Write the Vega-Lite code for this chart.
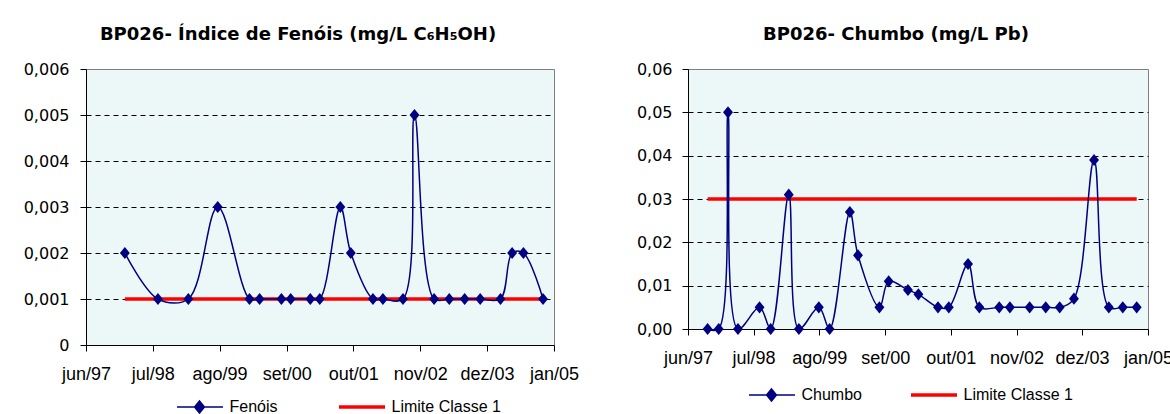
{
  "$schema": "https://vega.github.io/schema/vega-lite/v6.json",
  "background": "white",
  "padding": {"left": 22, "top": 25, "right": 0, "bottom": 0},
  "bounds": "flush",
  "spacing": 134,
  "datasets": {
    "fenois": [
      {"data": "1998-01-17", "serie": "Fenóis", "valor": 0.002},
      {"data": "1998-08-01", "serie": "Fenóis", "valor": 0.001},
      {"data": "1999-01-28", "serie": "Fenóis", "valor": 0.001},
      {"data": "1999-07-21", "serie": "Fenóis", "valor": 0.003},
      {"data": "2000-01-25", "serie": "Fenóis", "valor": 0.001},
      {"data": "2000-03-25", "serie": "Fenóis", "valor": 0.001},
      {"data": "2000-08-01", "serie": "Fenóis", "valor": 0.001},
      {"data": "2000-09-25", "serie": "Fenóis", "valor": 0.001},
      {"data": "2001-01-19", "serie": "Fenóis", "valor": 0.001},
      {"data": "2001-03-16", "serie": "Fenóis", "valor": 0.001},
      {"data": "2001-07-16", "serie": "Fenóis", "valor": 0.003},
      {"data": "2001-09-16", "serie": "Fenóis", "valor": 0.002},
      {"data": "2002-01-25", "serie": "Fenóis", "valor": 0.001},
      {"data": "2002-03-25", "serie": "Fenóis", "valor": 0.001},
      {"data": "2002-07-22", "serie": "Fenóis", "valor": 0.001},
      {"data": "2002-09-28", "serie": "Fenóis", "valor": 0.005},
      {"data": "2003-01-22", "serie": "Fenóis", "valor": 0.001},
      {"data": "2003-04-22", "serie": "Fenóis", "valor": 0.001},
      {"data": "2003-07-22", "serie": "Fenóis", "valor": 0.001},
      {"data": "2003-10-22", "serie": "Fenóis", "valor": 0.001},
      {"data": "2004-02-19", "serie": "Fenóis", "valor": 0.001},
      {"data": "2004-04-28", "serie": "Fenóis", "valor": 0.002},
      {"data": "2004-07-04", "serie": "Fenóis", "valor": 0.002},
      {"data": "2004-10-28", "serie": "Fenóis", "valor": 0.001},
      {"data": "1998-01-17", "serie": "Limite Classe 1", "valor": 0.001},
      {"data": "2004-10-28", "serie": "Limite Classe 1", "valor": 0.001}
    ],
    "chumbo": [
      {"data": "1997-09-27", "serie": "Chumbo", "valor": 0},
      {"data": "1997-12-03", "serie": "Chumbo", "valor": 0},
      {"data": "1998-01-28", "serie": "Chumbo", "valor": 0.05},
      {"data": "1998-03-29", "serie": "Chumbo", "valor": 0},
      {"data": "1998-08-06", "serie": "Chumbo", "valor": 0.005},
      {"data": "1998-10-12", "serie": "Chumbo", "valor": 0},
      {"data": "1999-01-29", "serie": "Chumbo", "valor": 0.031},
      {"data": "1999-03-31", "serie": "Chumbo", "valor": 0},
      {"data": "1999-07-29", "serie": "Chumbo", "valor": 0.005},
      {"data": "1999-10-02", "serie": "Chumbo", "valor": 0},
      {"data": "2000-02-01", "serie": "Chumbo", "valor": 0.027},
      {"data": "2000-03-21", "serie": "Chumbo", "valor": 0.017},
      {"data": "2000-07-28", "serie": "Chumbo", "valor": 0.005},
      {"data": "2000-09-22", "serie": "Chumbo", "valor": 0.011},
      {"data": "2001-01-16", "serie": "Chumbo", "valor": 0.009},
      {"data": "2001-03-20", "serie": "Chumbo", "valor": 0.008},
      {"data": "2001-07-16", "serie": "Chumbo", "valor": 0.005},
      {"data": "2001-09-19", "serie": "Chumbo", "valor": 0.005},
      {"data": "2002-01-13", "serie": "Chumbo", "valor": 0.015},
      {"data": "2002-03-22", "serie": "Chumbo", "valor": 0.005},
      {"data": "2002-07-20", "serie": "Chumbo", "valor": 0.005},
      {"data": "2002-09-22", "serie": "Chumbo", "valor": 0.005},
      {"data": "2003-01-19", "serie": "Chumbo", "valor": 0.005},
      {"data": "2003-04-26", "serie": "Chumbo", "valor": 0.005},
      {"data": "2003-07-19", "serie": "Chumbo", "valor": 0.005},
      {"data": "2003-10-13", "serie": "Chumbo", "valor": 0.007},
      {"data": "2004-02-11", "serie": "Chumbo", "valor": 0.039},
      {"data": "2004-05-10", "serie": "Chumbo", "valor": 0.005},
      {"data": "2004-08-02", "serie": "Chumbo", "valor": 0.005},
      {"data": "2004-10-25", "serie": "Chumbo", "valor": 0.005},
      {"data": "1997-09-27", "serie": "Limite Classe 1", "valor": 0.03},
      {"data": "2004-10-25", "serie": "Limite Classe 1", "valor": 0.03}
    ]
  },
  "config": {
    "view": {"fill": "#ecf8f8", "stroke": "#808080", "strokeWidth": 1},
    "axis": {"domainColor": "black", "domainWidth": 1, "tickColor": "black", "tickSize": 6, "labelColor": "black", "title": null, "labelFlush": false, "labelOverlap": false},
    "title": {"font": "DejaVu Sans", "fontSize": 18, "fontWeight": "bold", "color": "black", "anchor": "middle", "baseline": "alphabetic", "offset": 17},
    "legend": {"labelFont": "Liberation Sans", "labelFontSize": 16, "labelColor": "black", "labelOffset": 22, "symbolOffset": 14.5, "padding": 0, "symbolSize": 2209, "columnPadding": -3, "gridAlign": "all", "direction": "horizontal", "orient": "none", "title": null, "clipHeight": 18}
  },
  "resolve": {"scale": {"color": "independent"}, "legend": {"color": "independent"}},
  "hconcat": [
    {
      "width": 468,
      "height": 276,
      "data": {"name": "fenois"},
      "title": {"text": "BP026- Índice de Fenóis  (mg/L C₆H₅OH)", "dx": -22},
      "encoding": {
        "x": {
          "field": "data", "type": "temporal",
          "scale": {"type": "utc", "domain": [{"year": 1997, "month": 6, "date": 1, "utc": true}, {"year": 2005, "month": 1, "date": 1, "utc": true}]},
          "axis": {
            "values": [
              {"year": 1997, "month": 6, "date": 1, "utc": true},
              {"year": 1998, "month": 7, "date": 1, "utc": true},
              {"year": 1999, "month": 8, "date": 1, "utc": true},
              {"year": 2000, "month": 9, "date": 1, "utc": true},
              {"year": 2001, "month": 10, "date": 1, "utc": true},
              {"year": 2002, "month": 11, "date": 1, "utc": true},
              {"year": 2003, "month": 12, "date": 1, "utc": true},
              {"year": 2005, "month": 1, "date": 1, "utc": true}
            ],
            "labelExpr": "['jan','fev','mar','abr','mai','jun','jul','ago','set','out','nov','dez'][utcmonth(datum.value)] + '/' + utcFormat(datum.value, '%y')",
            "labelFont": "Liberation Sans", "labelFontSize": 18, "labelPadding": 14, "grid": false
          }
        },
        "y": {
          "field": "valor", "type": "quantitative",
          "scale": {"domain": [0, 0.006], "nice": false},
          "axis": {
            "values": [0, 0.001, 0.002, 0.003, 0.004, 0.005, 0.006],
            "labelExpr": "replace(format(datum.value, '.3~f'), '.', ',')",
            "labelFont": "DejaVu Sans", "labelFontSize": 16, "labelPadding": 11,
            "grid": true, "gridDash": [5, 4], "gridWidth": 1,
            "gridColor": {"condition": {"test": "datum.value < 0.0005 || datum.value > 0.0055", "value": "transparent"}, "value": "black"}
          }
        },
        "color": {
          "field": "serie", "type": "nominal",
          "scale": {"domain": ["Fenóis", "Limite Classe 1"], "range": ["#000080", "#ff0000"]},
          "legend": {
            "legendX": 91, "legendY": 329,
            "encode": {"symbols": {"update": {
              "size": {"value": 2209},
              "shape": {"signal": "datum.value === 'Limite Classe 1' ? 'M-1,0H1' : 'M-1,0H1M0,-0.255L0.21,0L0,0.255L-0.21,0Z'"},
              "strokeWidth": {"signal": "datum.value === 'Limite Classe 1' ? 3.5 : 1.5"},
              "stroke": {"signal": "datum.value === 'Limite Classe 1' ? '#ff0000' : '#000080'"},
              "fill": {"signal": "datum.value === 'Limite Classe 1' ? 'transparent' : '#000080'"},
              "opacity": {"value": 1}, "fillOpacity": {"value": 1}, "strokeOpacity": {"value": 1}
            }}}
          }
        }
      },
      "layer": [
        {"transform": [{"filter": "datum.serie === 'Limite Classe 1'"}], "mark": {"type": "line", "strokeWidth": 3.5}},
        {"transform": [{"filter": "datum.serie !== 'Limite Classe 1'"}], "mark": {"type": "line", "interpolate": "catmull-rom", "strokeWidth": 1.5}},
        {"transform": [{"filter": "datum.serie !== 'Limite Classe 1'"}], "mark": {"type": "point", "shape": "M0,-1.1L0.9,0L0,1.1L-0.9,0Z", "size": 121, "filled": true, "opacity": 1}}
      ]
    },
    {
      "width": 460,
      "height": 260,
      "data": {"name": "chumbo"},
      "title": {"text": "BP026- Chumbo (mg/L Pb)", "dx": -22},
      "encoding": {
        "x": {
          "field": "data", "type": "temporal",
          "scale": {"type": "utc", "domain": [{"year": 1997, "month": 6, "date": 1, "utc": true}, {"year": 2005, "month": 1, "date": 1, "utc": true}]},
          "axis": {
            "values": [
              {"year": 1997, "month": 6, "date": 1, "utc": true},
              {"year": 1998, "month": 7, "date": 1, "utc": true},
              {"year": 1999, "month": 8, "date": 1, "utc": true},
              {"year": 2000, "month": 9, "date": 1, "utc": true},
              {"year": 2001, "month": 10, "date": 1, "utc": true},
              {"year": 2002, "month": 11, "date": 1, "utc": true},
              {"year": 2003, "month": 12, "date": 1, "utc": true},
              {"year": 2005, "month": 1, "date": 1, "utc": true}
            ],
            "labelExpr": "['jan','fev','mar','abr','mai','jun','jul','ago','set','out','nov','dez'][utcmonth(datum.value)] + '/' + utcFormat(datum.value, '%y')",
            "labelFont": "Liberation Sans", "labelFontSize": 18, "labelPadding": 14, "grid": false
          }
        },
        "y": {
          "field": "valor", "type": "quantitative",
          "scale": {"domain": [0, 0.06], "nice": false},
          "axis": {
            "values": [0, 0.01, 0.02, 0.03, 0.04, 0.05, 0.06],
            "labelExpr": "replace(format(datum.value, '.2f'), '.', ',')",
            "labelFont": "DejaVu Sans", "labelFontSize": 16, "labelPadding": 10,
            "grid": true, "gridDash": [5, 4], "gridWidth": 1,
            "gridColor": {"condition": {"test": "datum.value < 0.005 || datum.value > 0.055", "value": "transparent"}, "value": "black"}
          }
        },
        "color": {
          "field": "serie", "type": "nominal",
          "scale": {"domain": ["Chumbo", "Limite Classe 1"], "range": ["#000080", "#ff0000"]},
          "legend": {
            "legendX": 61, "legendY": 317,
            "encode": {"symbols": {"update": {
              "size": {"value": 2209},
              "shape": {"signal": "datum.value === 'Limite Classe 1' ? 'M-1,0H1' : 'M-1,0H1M0,-0.255L0.21,0L0,0.255L-0.21,0Z'"},
              "strokeWidth": {"signal": "datum.value === 'Limite Classe 1' ? 3.5 : 1.5"},
              "stroke": {"signal": "datum.value === 'Limite Classe 1' ? '#ff0000' : '#000080'"},
              "fill": {"signal": "datum.value === 'Limite Classe 1' ? 'transparent' : '#000080'"},
              "opacity": {"value": 1}, "fillOpacity": {"value": 1}, "strokeOpacity": {"value": 1}
            }}}
          }
        }
      },
      "layer": [
        {"transform": [{"filter": "datum.serie === 'Limite Classe 1'"}], "mark": {"type": "line", "strokeWidth": 3.5}},
        {"transform": [{"filter": "datum.serie !== 'Limite Classe 1'"}], "mark": {"type": "line", "interpolate": "catmull-rom", "strokeWidth": 1.5}},
        {"transform": [{"filter": "datum.serie !== 'Limite Classe 1'"}], "mark": {"type": "point", "shape": "M0,-1.1L0.9,0L0,1.1L-0.9,0Z", "size": 121, "filled": true, "opacity": 1}}
      ]
    }
  ]
}
